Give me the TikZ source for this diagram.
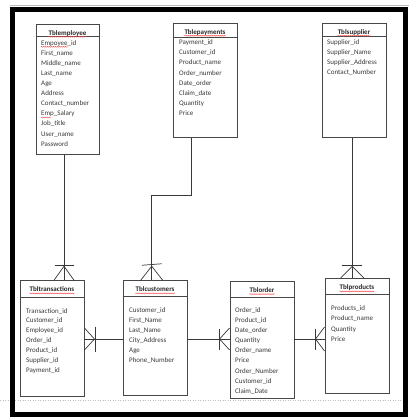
\documentclass[tikz,border=0pt]{standalone}
\usepackage{fontspec}
\setmainfont{Carlito}
\usetikzlibrary{calc,decorations.pathmorphing}
\begin{document}
\begin{tikzpicture}[x=1pt,y=-1pt,
  tbl/.style={draw=black!72,line width=0.9pt,rectangle,inner sep=0pt,minimum width=64pt},
  ttl/.style={font=\fontsize{7}{8}\selectfont\bfseries,text=black!85,inner sep=0pt,anchor=base},
  fld/.style={font=\fontsize{7}{8}\selectfont,text=black!78,inner sep=0pt,anchor=base west},
  sepline/.style={draw=black!72,line width=0.7pt},
  conn/.style={draw=black!78,line width=0.7pt},
  sq/.style={draw=red!75,line width=0.4pt,decorate,decoration={snake,amplitude=0.45pt,segment length=2pt}}]
\useasboundingbox (0,0) rectangle (417,420);
% page artefacts and frame
\draw[gray!55,line width=0.5pt] (10,5.5) -- (409,5.5);
\draw[gray!50,line width=0.5pt,dotted] (0,400) -- (404,400);
\draw[black,line width=4.6pt] (12.5,9.3) rectangle (405.5,414.5);

% ---------- tables ----------
% Tblemployee
\node[tbl,minimum width=63pt,minimum height=130.3pt] (emp) at (67.5,89.15) {};
\node[ttl] (empT) at (67.5,35.1) {Tblemployee};
\draw[sepline] ($(emp.north west)+(0,12.7)$) -- ($(emp.north east)+(0,12.7)$);
\foreach \t [count=\i] in {Empoyee\_id,First\_name,Middle\_name,Last\_name,Age,Address,Contact\_number,Emp\_Salary,Job\_title,User\_name,Password}
  \node[fld] (emp-\i) at (41,{45.1+10.1*(\i-1)}) {\t};

% Tblepayments
\node[tbl,minimum width=64pt,minimum height=114pt] (pay) at (205,80.3) {};
\node[ttl] (payT) at (205,34.1) {Tblepayments};
\draw[sepline] ($(pay.north west)+(0,14.4)$) -- ($(pay.north east)+(0,14.4)$);
\foreach \t [count=\i] in {Payment\_id,Customer\_id,Product\_name,Order\_number,Date\_order,Claim\_date,Quantity,Price}
  \node[fld] (pay-\i) at (179,{44.7+10.15*(\i-1)}) {\t};

% Tblsupplier
\node[tbl,minimum width=64pt,minimum height=114pt] (sup) at (354,80.3) {};
\node[ttl] (supT) at (354,34.1) {Tblsupplier};
\draw[sepline] ($(sup.north west)+(0,14)$) -- ($(sup.north east)+(0,14)$);
\foreach \t [count=\i] in {Supplier\_id,Supplier\_Name,Supplier\_Address,Contact\_Number}
  \node[fld] (sup-\i) at (327,{44.7+10*(\i-1)}) {\t};

% Tbltransactions
\node[tbl,minimum width=64pt,minimum height=115.3pt] (trans) at (52,338.35) {};
\node[ttl] (transT) at (52,291.7) {Tbltransactions};
\draw[sepline] ($(trans.north west)+(0,16.6)$) -- ($(trans.north east)+(0,16.6)$);
\foreach \t [count=\i] in {Transaction\_id,Customer\_id,Employee\_id,Order\_id,Product\_id,Supplier\_id,Payment\_id}
  \node[fld] (trans-\i) at (26,{313.1+9.85*(\i-1)}) {\t};

% Tblcustomers
\node[tbl,minimum width=64pt,minimum height=114.6pt] (cust) at (155,338) {};
\node[ttl] (custT) at (155,291.7) {Tblcustomers};
\draw[sepline] ($(cust.north west)+(0,16)$) -- ($(cust.north east)+(0,16)$);
\foreach \t [count=\i] in {Customer\_id,First\_Name,Last\_Name,City\_Address,Age,Phone\_Number}
  \node[fld] (cust-\i) at (129,{312.4+10*(\i-1)}) {\t};

% Tblorder
\node[tbl,minimum width=64pt,minimum height=117.4pt] (order) at (262,340) {};
\node[ttl] (orderT) at (262,292.4) {Tblorder};
\draw[sepline] ($(order.north west)+(0,16)$) -- ($(order.north east)+(0,16)$);
\foreach \t [count=\i] in {Order\_id,Product\_id,Date\_order,Quantity,Order\_name,Price,Order\_Number,Customer\_id,Claim\_Date}
  \node[fld] (order-\i) at (235,{312.4+10.1*(\i-1)}) {\t};

% Tblproducts
\node[tbl,minimum width=64pt,minimum height=115pt] (prod) at (357,335.8) {};
\node[ttl] (prodT) at (357,289.7) {Tblproducts};
\draw[sepline] ($(prod.north west)+(0,16.7)$) -- ($(prod.north east)+(0,16.7)$);
\foreach \t [count=\i] in {Products\_id,Product\_name,Quantity,Price}
  \node[fld] (prod-\i) at (331,{310.7+10.2*(\i-1)}) {\t};

% ---------- spell-check squiggles ----------
\foreach \n in {empT,payT,supT,transT,custT,orderT,prodT}
  \draw[sq] ($(\n.base west)+(0,1.7)$) -- ($(\n.base east)+(0,1.7)$);
\draw[sq] ($(emp-1.base west)+(0,1.7)$) -- ++(27,0);
\draw[sq] ($(emp-8.base west)+(0,1.7)$) -- ++(10,0);

% ---------- connectors ----------
\coordinate (x64) at (64,0);
\coordinate (x352) at (352.3,0);
\coordinate (y339) at (0,339);
\coordinate (p1) at (191.7,195);
\coordinate (p2) at (151.7,195);

% Tblemployee -- Tbltransactions
\draw[conn] (emp.south -| x64) -- (trans.north -| x64);
\coordinate (e1) at (trans.north -| x64);
\draw[conn] ($(e1)+(-10,0)$) -- ($(e1)+(0,-14)$) -- ($(e1)+(10,0)$);
\draw[conn] ($(e1)+(-9.5,-15)$) -- ($(e1)+(9.5,-15)$);

% Tblepayments -- Tblcustomers
\draw[conn] (pay.south -| p1) -- (p1) -- (p2) -- (cust.north -| p2);
\coordinate (e2) at (cust.north -| p2);
\draw[conn] ($(e2)+(-11,0)$) -- ($(e2)+(0,-14)$) -- ($(e2)+(11,0)$);
\draw[conn] ($(e2)+(-9.5,-15)$) -- ($(e2)+(10,-16.5)$);

% Tblsupplier -- Tblproducts
\draw[conn] (sup.south -| x352) -- (prod.north -| x352);
\coordinate (e3) at (prod.north -| x352);
\draw[conn] ($(e3)+(-11.5,0)$) -- ($(e3)+(0,-11.5)$) -- ($(e3)+(11.5,0)$);
\draw[conn] ($(e3)+(-10,-12.5)$) -- ($(e3)+(10,-12.5)$);

% Tbltransactions -- Tblcustomers
\draw[conn] (trans.east |- y339) -- (cust.west |- y339);
\coordinate (e4) at (trans.east |- y339);
\draw[conn] ($(e4)+(0,-11)$) -- ($(e4)+(10,0)$) -- ($(e4)+(0,11)$);
\draw[conn] ($(e4)+(10.5,-12.5)$) -- ($(e4)+(10.5,12.5)$);

% Tblcustomers -- Tblorder
\draw[conn] (cust.east |- y339) -- (order.west |- y339);
\coordinate (e5) at (order.west |- y339);
\draw[conn] ($(e5)+(0,-11)$) -- ($(e5)+(-10,0)$) -- ($(e5)+(0,11)$);
\draw[conn] ($(e5)+(-10.5,-10.5)$) -- ($(e5)+(-10.5,10.5)$);

% Tblorder -- Tblproducts
\draw[conn] (order.east |- y339) -- (prod.west |- y339);
\coordinate (e6) at (prod.west |- y339);
\draw[conn] ($(e6)+(0,-12)$) -- ($(e6)+(-9,0)$) -- ($(e6)+(0,12)$);
\draw[conn] ($(e6)+(-9.5,-10.5)$) -- ($(e6)+(-9.5,10.5)$);
\end{tikzpicture}
\end{document}
